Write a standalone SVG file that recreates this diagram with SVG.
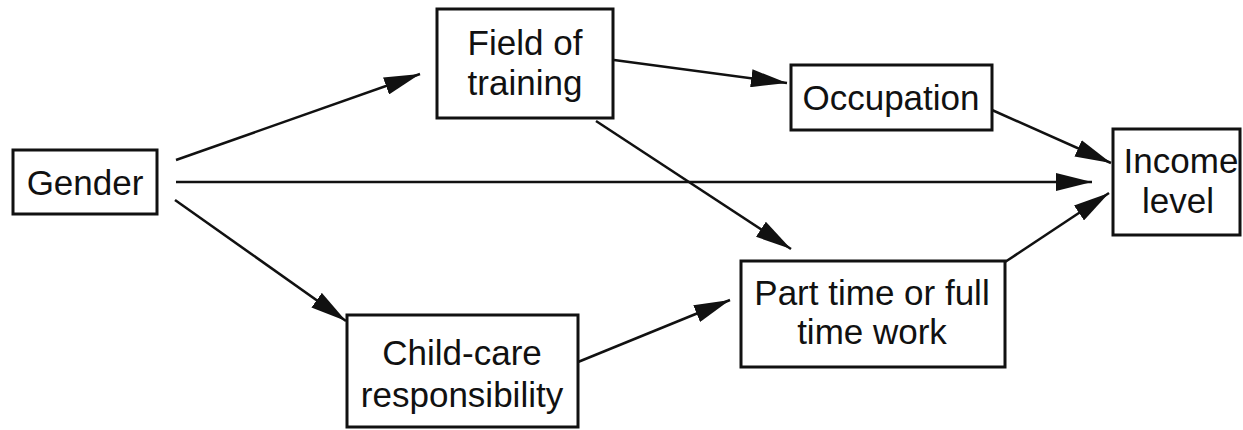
<svg xmlns="http://www.w3.org/2000/svg" width="1243" height="430" viewBox="0 0 1243 430">
  <style>
    .box { fill: #ffffff; stroke: #111111; stroke-width: 3; }
    .lbl { font-family: "Liberation Sans", Arial, Helvetica, sans-serif; font-size: 35px; fill: #111111; text-anchor: middle; }
    .edge { stroke: #111111; stroke-width: 2.5; fill: none; marker-end: url(#head); }
  </style>
  <defs>
    <marker id="head" viewBox="0 0 36 18" refX="36" refY="9" markerWidth="36" markerHeight="18" markerUnits="userSpaceOnUse" orient="auto">
      <path d="M0,0 L36,9 L0,18 Z" fill="#111111"/>
    </marker>
  </defs>
  <rect width="1243" height="430" fill="#ffffff"/>

  <g id="connectors">
    <line class="edge" x1="176" y1="160" x2="420" y2="74"/>
    <line class="edge" x1="176" y1="182" x2="1092" y2="182"/>
    <line class="edge" x1="175" y1="200" x2="346" y2="321"/>
    <line class="edge" x1="614" y1="60" x2="787" y2="83"/>
    <line class="edge" x1="596" y1="121" x2="791" y2="249"/>
    <line class="edge" x1="578" y1="362" x2="730" y2="300"/>
    <line class="edge" x1="992" y1="110" x2="1111" y2="163"/>
    <line class="edge" x1="1005" y1="262" x2="1109" y2="193"/>
  </g>

  <g id="gender">
    <rect class="box" x="13" y="150" width="144" height="64"/>
    <text class="lbl" x="85" y="195">Gender</text>
  </g>

  <g id="field-of-training">
    <rect class="box" x="437" y="9" width="176" height="109"/>
    <text class="lbl" x="525" y="55">Field of</text>
    <text class="lbl" x="525" y="95">training</text>
  </g>

  <g id="occupation">
    <rect class="box" x="791" y="65" width="201" height="65"/>
    <text class="lbl" x="891" y="110">Occupation</text>
  </g>

  <g id="income-level">
    <rect class="box" x="1113" y="129" width="127" height="106"/>
    <text class="lbl" x="1181" y="173">Income</text>
    <text class="lbl" x="1178" y="213">level</text>
  </g>

  <g id="part-time-work">
    <rect class="box" x="741" y="261" width="264" height="106"/>
    <text class="lbl" x="872" y="305">Part time or full</text>
    <text class="lbl" x="872" y="344">time work</text>
  </g>

  <g id="child-care">
    <rect class="box" x="347" y="315" width="231" height="112"/>
    <text class="lbl" x="462" y="365">Child-care</text>
    <text class="lbl" x="462" y="407">responsibility</text>
  </g>
</svg>
